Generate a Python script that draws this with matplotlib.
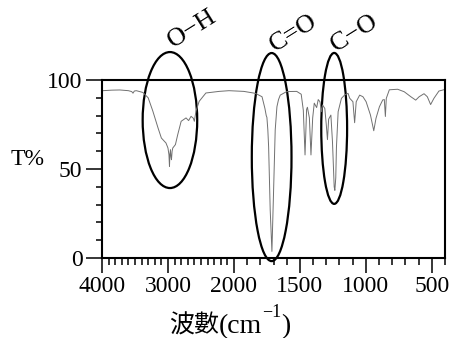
import numpy as np
import matplotlib
matplotlib.use('Agg')
import matplotlib.pyplot as plt
from matplotlib.patches import Ellipse

plt.rcParams['font.family'] = ['Liberation Serif', 'Noto Sans CJK TC']

# IR spectrum (wavenumber in cm-1, transmittance in %)
wavenumber = [3990, 3850, 3730, 3600, 3550, 3530, 3510, 3480, 3380, 3300,
              3230, 3150, 3100, 3030, 3000, 2985, 2977, 2970, 2962, 2955,
              2947, 2937, 2927, 2887, 2852, 2800, 2726, 2687, 2650, 2615,
              2600, 2575, 2527, 2425, 2225, 2075, 1925, 1837, 1787, 1765,
              1755, 1750, 1743, 1737, 1725, 1712, 1700, 1687, 1674, 1662,
              1649, 1600, 1524, 1490, 1474, 1461, 1449, 1443, 1428, 1416,
              1403, 1391, 1373, 1361, 1348, 1336, 1328, 1311, 1300, 1291,
              1282, 1265, 1253, 1240, 1235, 1228, 1223, 1210, 1185, 1160,
              1135, 1122, 1098, 1085, 1073, 1047, 1022, 998, 965, 940,
              923, 897, 872, 860, 852, 845, 822, 759, 709, 659,
              622, 596, 559, 534, 509, 484, 446, 410]
transmittance = [94.0, 94.3, 94.4, 94.0, 93.5, 92.6, 93.8, 94.0, 93.0, 90.0,
                 82.6, 73.0, 67.4, 64.6, 61.8, 58.0, 51.5, 58.5, 60.8, 57.0,
                 55.2, 60.0, 61.8, 63.7, 69.3, 76.8, 78.7, 77.2, 79.6, 78.5,
                 76.8, 82.6, 88.0, 92.7, 93.6, 94.0, 93.6, 92.5, 90.6, 84.0,
                 80.0, 79.0, 72.0, 62.5, 27.0, 3.7, 36.0, 72.0, 85.0, 89.0,
                 91.5, 93.5, 93.6, 92.0, 83.0, 57.9, 83.5, 84.7, 78.7, 57.9,
                 78.7, 87.0, 84.5, 89.0, 87.8, 82.2, 86.0, 84.0, 75.0, 66.5,
                 78.0, 80.3, 65.3, 40.0, 38.0, 45.0, 62.0, 82.2, 89.7, 91.6,
                 92.5, 89.7, 87.8, 76.0, 87.8, 91.5, 90.6, 87.8, 80.3, 71.5,
                 78.5, 85.0, 88.8, 89.0, 79.5, 89.7, 94.5, 94.8, 93.4, 90.6,
                 88.7, 90.6, 92.3, 90.6, 86.2, 89.7, 93.8, 94.5]

x_major = [4000, 3000, 2000, 1500, 1000, 500]
x_minor = list(range(400, 4001, 100))
y_major = [0, 50, 100]
y_minor = list(range(0, 101, 10))

# circled bands
groups = ['O\u2212H', 'C=O', 'C\u2212O']
ring_wn = [2970, 1714, 1240]
ring_t = [77.5, 56.7, 72.8]
ring_w = [827, 301, 196]
ring_h = [76.4, 116.9, 84.8]
label_wn = [2625, 1549, 1083]
label_t = [129, 126, 126]


# spectrometer style axis: scale doubles below 2000 cm-1
def fwd(x):
    x = np.asarray(x, float)
    return np.where(x >= 2000, x, 2000 - (2000 - x) * 2)


def inv(u):
    u = np.asarray(u, float)
    return np.where(u >= 2000, u, 2000 - (2000 - u) / 2)


fig = plt.figure(figsize=(4.56, 3.38), dpi=100)
ax = fig.add_axes([102 / 456, 1 - 258 / 338, 343 / 456, 178 / 338])
ax.set_xscale('function', functions=(fwd, inv))
ax.plot(wavenumber, transmittance, color='#707070', lw=0.7)
ax.set_xlim(4000, 400)
ax.set_ylim(0, 100)

ax.set_xticks(x_major)
ax.set_xticks(x_minor, minor=True)
ax.set_yticks(y_major)
ax.set_yticks(y_minor, minor=True)
ax.tick_params(which='major', length=10.5, width=1.1, labelsize=17, pad=2.5)
ax.tick_params(which='minor', length=5, width=1.1)
ax.tick_params(axis='y', which='major', length=11.5)
ax.tick_params(axis='y', which='minor', length=4.5)
for s in ax.spines.values():
    s.set_linewidth(1.5)

for g, cx, cy, w, h, lx, ly in zip(groups, ring_wn, ring_t, ring_w, ring_h,
                                   label_wn, label_t):
    ax.add_patch(Ellipse((cx, cy), w, h, fill=False, ec='black', lw=1.6,
                         clip_on=False))
    ax.text(lx, ly, g, rotation=32, ha='center', va='center', fontsize=19,
            clip_on=False)

ax.set_ylabel('T%', rotation=0, fontsize=17, ha='center', va='center')
ax.yaxis.set_label_coords(-0.216, 0.556)

# x label pieced together so the CJK part and the superscript line up
base = -0.421
t = ax.text(0.195, base, '波數', transform=ax.transAxes, fontsize=18,
            family='Noto Sans CJK TC', va='baseline')
t = ax.annotate('(cm', xy=(1, base), xycoords=(t, ax.transAxes),
                fontsize=20, va='baseline')
t = ax.annotate('\u22121', xy=(1, -0.33), xycoords=(t, ax.transAxes),
                fontsize=13, va='baseline')
ax.annotate(')', xy=(1, base), xycoords=(t, ax.transAxes),
            fontsize=20, va='baseline')

fig.savefig('out.png', dpi=100)
